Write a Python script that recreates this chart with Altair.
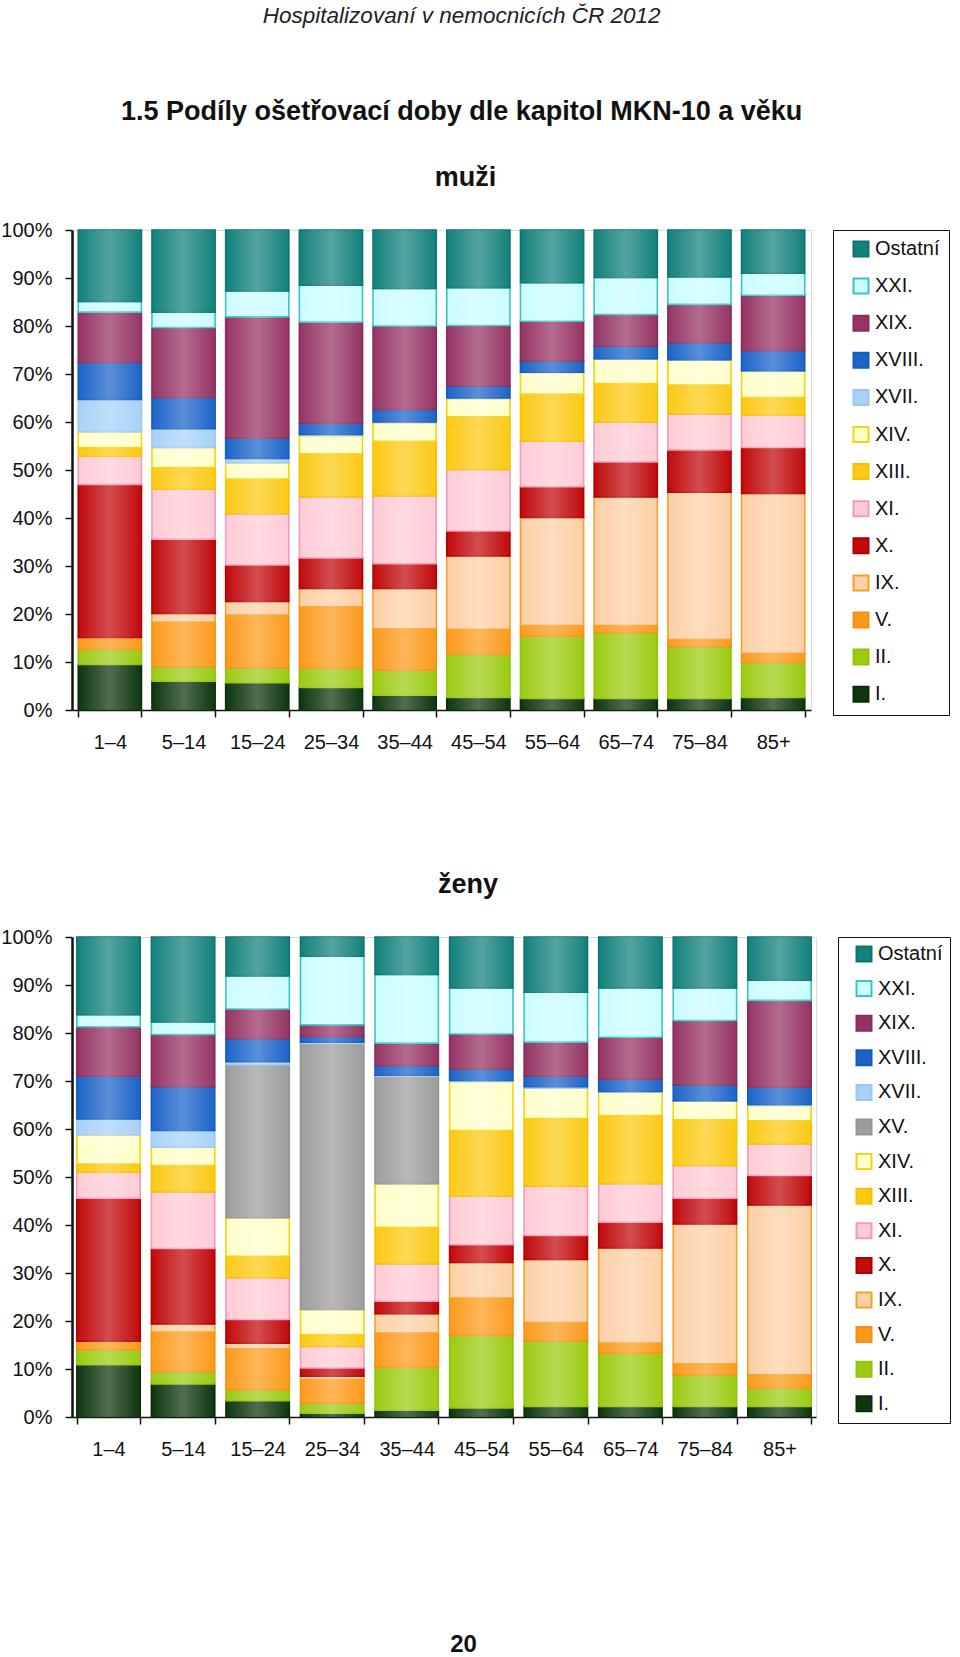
import altair as alt
import pandas as pd

ages = ["1–4", "5–14", "15–24", "25–34", "35–44", "45–54", "55–64", "65–74", "75–84", "85+"]

# stacking order bottom -> top
chapters_m = ["I.", "II.", "V.", "IX.", "X.", "XI.", "XIII.", "XIV.", "XVII.", "XVIII.", "XIX.", "XXI.", "Ostatní"]
chapters_z = ["I.", "II.", "V.", "IX.", "X.", "XI.", "XIII.", "XIV.", "XV.", "XVII.", "XVIII.", "XIX.", "XXI.", "Ostatní"]

muzi = {
    "I.":      [9.5, 6.0, 5.7, 4.7, 3.1, 2.6, 2.4, 2.4, 2.4, 2.6],
    "II.":     [3.1, 3.0, 3.1, 4.0, 5.2, 9.0, 13.0, 13.7, 10.8, 7.3],
    "V.":      [2.3, 9.3, 11.0, 12.8, 8.6, 5.2, 2.2, 1.5, 1.5, 1.9],
    "IX.":     [0.2, 1.8, 2.8, 3.8, 8.4, 15.3, 22.5, 26.8, 30.7, 33.3],
    "X.":      [31.9, 15.5, 7.6, 6.4, 5.2, 5.2, 6.4, 7.3, 8.8, 9.6],
    "XI.":     [5.9, 10.4, 10.7, 12.7, 14.1, 12.8, 9.5, 8.3, 7.5, 6.7],
    "XIII.":   [1.8, 4.5, 7.2, 9.0, 11.4, 11.0, 9.8, 8.0, 6.0, 3.7],
    "XIV.":    [3.3, 4.2, 3.4, 3.8, 3.9, 3.8, 4.5, 5.1, 5.2, 5.5],
    "XVII.":   [6.7, 3.9, 0.9, 0.2, 0.1, 0.1, 0.1, 0.1, 0.1, 0.1],
    "XVIII.":  [7.7, 6.5, 4.2, 2.3, 2.6, 2.5, 2.3, 2.6, 3.5, 4.2],
    "XIX.":    [10.5, 14.6, 25.3, 21.1, 17.4, 12.6, 8.3, 6.6, 8.0, 11.5],
    "XXI.":    [2.2, 3.2, 5.4, 7.7, 7.8, 7.9, 8.0, 7.7, 5.7, 4.6],
    "Ostatní": [14.9, 17.1, 12.7, 11.5, 12.2, 12.0, 11.0, 9.9, 9.8, 9.0],
}

zeny = {
    "I.":      [10.9, 6.9, 3.4, 0.8, 1.4, 1.9, 2.2, 2.2, 2.2, 2.2],
    "II.":     [3.1, 2.6, 2.3, 2.1, 8.9, 15.1, 13.6, 11.1, 6.6, 3.8],
    "V.":      [1.6, 8.2, 8.5, 4.9, 7.2, 7.8, 3.9, 2.1, 2.3, 2.8],
    "IX.":     [0.2, 1.7, 1.2, 0.7, 4.0, 7.4, 13.1, 19.8, 29.1, 35.4],
    "X.":      [29.8, 15.7, 4.9, 1.7, 2.6, 3.7, 5.0, 5.4, 5.4, 6.1],
    "XI.":     [5.4, 11.8, 8.7, 4.5, 7.8, 10.1, 10.3, 8.0, 6.8, 6.6],
    "XIII.":   [1.7, 5.5, 4.5, 2.5, 7.6, 13.7, 14.1, 14.2, 9.5, 4.8],
    "XIV.":    [6.1, 3.8, 8.0, 5.2, 9.1, 10.2, 6.3, 4.9, 3.9, 3.2],
    "XV.":     [0.0, 0.0, 31.9, 55.4, 22.4, 0.0, 0.0, 0.0, 0.0, 0.0],
    "XVII.":   [3.3, 3.5, 0.6, 0.3, 0.2, 0.2, 0.3, 0.1, 0.1, 0.2],
    "XVIII.":  [8.9, 9.1, 4.8, 1.2, 2.0, 2.4, 2.2, 2.6, 3.3, 3.6],
    "XIX.":    [10.3, 10.9, 6.2, 2.4, 4.7, 7.3, 7.1, 8.7, 13.4, 18.1],
    "XXI.":    [2.5, 2.6, 6.9, 14.3, 14.3, 9.6, 10.4, 10.3, 6.8, 4.2],
    "Ostatní": [16.2, 17.7, 8.1, 4.0, 7.8, 10.6, 11.5, 10.6, 10.6, 9.0],
}

fill_colors = {
    "Ostatní": "#13817c", "XXI.": "#ccfdff", "XIX.": "#963464", "XVIII.": "#1c64c9",
    "XVII.": "#a8d2f8", "XV.": "#9d9d9d", "XIV.": "#ffffcc", "XIII.": "#fcc914",
    "XI.": "#ffccd5", "X.": "#c10a0c", "IX.": "#fdd0a6", "V.": "#fd9a1c",
    "II.": "#9ccb12", "I.": "#0e360f",
}
stroke_colors = {
    "Ostatní": "#0f7470", "XXI.": "#3cc4c4", "XIX.": "#8a2c5a", "XVIII.": "#175bb8",
    "XVII.": "#9cc8f0", "XV.": "#949494", "XIV.": "#f2d410", "XIII.": "#f5c000",
    "XI.": "#f09cba", "X.": "#b00000", "IX.": "#f4a12a", "V.": "#f59010",
    "II.": "#95c20a", "I.": "#0b2c0b",
}

FONT = "Liberation Sans, Arial, sans-serif"

shine = {
    "gradient": "linear", "x1": 0, "x2": 1, "y1": 0, "y2": 0,
    "stops": [
        {"offset": 0, "color": "rgba(255,255,255,0)"},
        {"offset": 0.5, "color": "rgba(255,255,255,0.28)"},
        {"offset": 1, "color": "rgba(255,255,255,0)"},
    ],
}


def make_df(values, chapters):
    rows = []
    for ci, ch in enumerate(chapters):
        for ai, a in enumerate(ages):
            rows.append({"age": a, "chapter": ch, "idx": ci, "value": values[ch][ai]})
    return pd.DataFrame(rows)


def panel(values, chapters, title, width, pin, pout, row_pad, leg_pad, page_no=None):
    df = make_df(values, chapters)
    legend_order = list(reversed(chapters))
    xaxis_kw = dict(labelAngle=0, tickBand="extent",
                    labelFontSize=20, labelFont=FONT, labelColor="#111",
                    labelPadding=15, tickSize=7, tickColor="#111", tickWidth=1.5,
                    domainColor="#111", domainWidth=1.5)
    if page_no is not None:
        xaxis_kw.update(title=page_no, titleFontSize=24, titleFontWeight="bold",
                        titleFont=FONT, titleColor="#111", titleX=391, titleY=227,
                        titleBaseline="middle", titleAlign="center", titleAnchor="start")
    else:
        xaxis_kw.update(title=None)
    xs = alt.X("age:N", sort=ages,
               scale=alt.Scale(paddingInner=pin, paddingOuter=pout),
               axis=alt.Axis(**xaxis_kw))
    ys = alt.Y("value:Q", stack="zero",
               scale=alt.Scale(domain=[0, 100], nice=False),
               axis=alt.Axis(title=None, values=list(range(0, 101, 10)),
                             labelExpr="datum.value + '%'", labelFontSize=20,
                             labelFont=FONT, labelColor="#111", labelPadding=13,
                             tickSize=7, tickColor="#111", tickWidth=1.5,
                             domainColor="#111", domainWidth=2.5, grid=False))
    leg = alt.Legend(title=None, symbolType="square", symbolSize=225, symbolStrokeWidth=2,
                     labelFontSize=20, labelFont=FONT, labelColor="#111", labelOffset=4,
                     labelExpr="datum.label + '\u00a0\u00a0'",
                     symbolOffset=9,
                     rowPadding=row_pad, padding=leg_pad, strokeColor="#111",
                     offset=22, cornerRadius=0)
    bars = alt.Chart(df).transform_filter("datum.value > 0").mark_bar(strokeWidth=1.6).encode(
        x=xs,
        y=ys,
        color=alt.Color("chapter:N",
                        scale=alt.Scale(domain=legend_order,
                                        range=[fill_colors[c] for c in legend_order]),
                        legend=leg),
        stroke=alt.Stroke("chapter:N",
                          scale=alt.Scale(domain=legend_order,
                                          range=[stroke_colors[c] for c in legend_order]),
                          legend=leg),
        order=alt.Order("idx:Q", sort="ascending"),
    )
    gloss = alt.Chart(pd.DataFrame({"age": ages})).mark_bar(color=shine).encode(
        x=alt.X("age:N", sort=ages),
        y=alt.datum(0),
        y2=alt.datum(100),
    )
    return alt.layer(bars, gloss).properties(
        width=width, height=480,
        title=alt.TitleParams(title, fontSize=27, fontWeight="bold", font=FONT,
                              color="#111", anchor="middle", frame="group", dx=24,
                              offset=28),
    )


top = panel(muzi, chapters_m, "muži", 739, 0.143, 0.085, 13.1, 9)
bottom = panel(zeny, chapters_z, "ženy", 744, 0.15, 0.065, 10.6, 7, page_no="20")

chart = alt.vconcat(top, bottom, spacing=117).resolve_scale(
    color="independent", stroke="independent", x="independent", y="independent"
).properties(
    title=alt.TitleParams(
        "Hospitalizovaní v nemocnicích ČR 2012",
        subtitle="1.5 Podíly ošetřovací doby dle kapitol MKN-10 a věku",
        fontSize=22.5, fontStyle="italic", fontWeight="normal", font=FONT, color="#222",
        subtitleFontSize=27, subtitleFontWeight="bold", subtitleFont=FONT,
        subtitleColor="#111", subtitlePadding=72, anchor="middle", dx=-14, dy=-9, offset=29.5,
    ),
    padding={"left": 0, "top": 4, "right": 0, "bottom": 0},
).configure_view(stroke="#222", strokeWidth=1.2).configure(background="white")

chart.save("out.html", embed_options={"renderer": "svg", "actions": False})
